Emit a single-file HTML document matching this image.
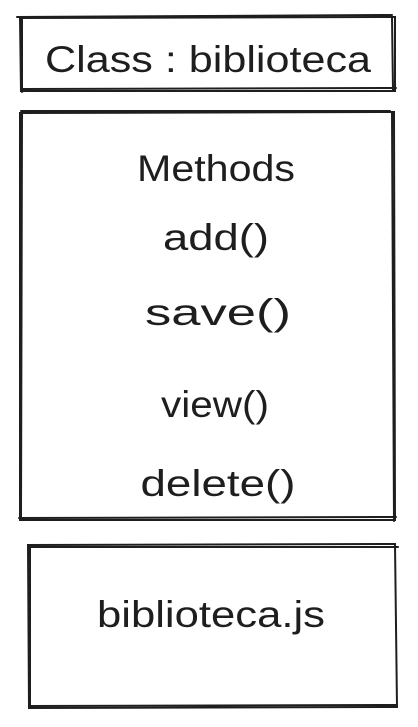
<!DOCTYPE html>
<html><head><meta charset="utf-8"><style>
html,body{margin:0;padding:0;background:#fff;width:418px;height:727px;overflow:hidden}
svg{display:block}
text{font-family:"Liberation Sans",sans-serif;fill:#1e1e1e;font-size:37px}
</style></head><body>
<svg width="418" height="727" viewBox="0 0 418 727" xmlns="http://www.w3.org/2000/svg">
<g fill="none" stroke="#1e1e1e" stroke-width="2" stroke-linecap="round">
<path d="M20 18 L395 17 L395 91 L21 91 Z"/>
<path d="M17 17 L392 15 M22 89 L396 88 M22 19 L22 92 M392 17 L393 90"/>
<path d="M20 113 L394 112 L395 520 L20 520 Z"/>
<path d="M21 111 L390 111 M19 518 L396 517 M22 112 L21 518 M392 113 L394 521"/>
<path d="M28 545 L395 544 L397 707 L29 708 Z"/>
<path d="M29 547 L398 547 M30 706 L396 705 M30 546 L30 706"/>
</g>
<text x="208" y="72" text-anchor="middle" textLength="326" lengthAdjust="spacingAndGlyphs">Class : biblioteca</text>
<text x="216" y="181" text-anchor="middle" textLength="158" lengthAdjust="spacingAndGlyphs">Methods</text>
<text x="216" y="250" text-anchor="middle" textLength="106" lengthAdjust="spacingAndGlyphs">add()</text>
<text x="218" y="325" text-anchor="middle" textLength="146" lengthAdjust="spacingAndGlyphs">save()</text>
<text x="215" y="417" text-anchor="middle" textLength="108" lengthAdjust="spacingAndGlyphs">view()</text>
<text x="218" y="496" text-anchor="middle" textLength="155" lengthAdjust="spacingAndGlyphs">delete()</text>
<text x="211" y="627" text-anchor="middle" textLength="228" lengthAdjust="spacingAndGlyphs">biblioteca.js</text>
</svg>
</body></html>
